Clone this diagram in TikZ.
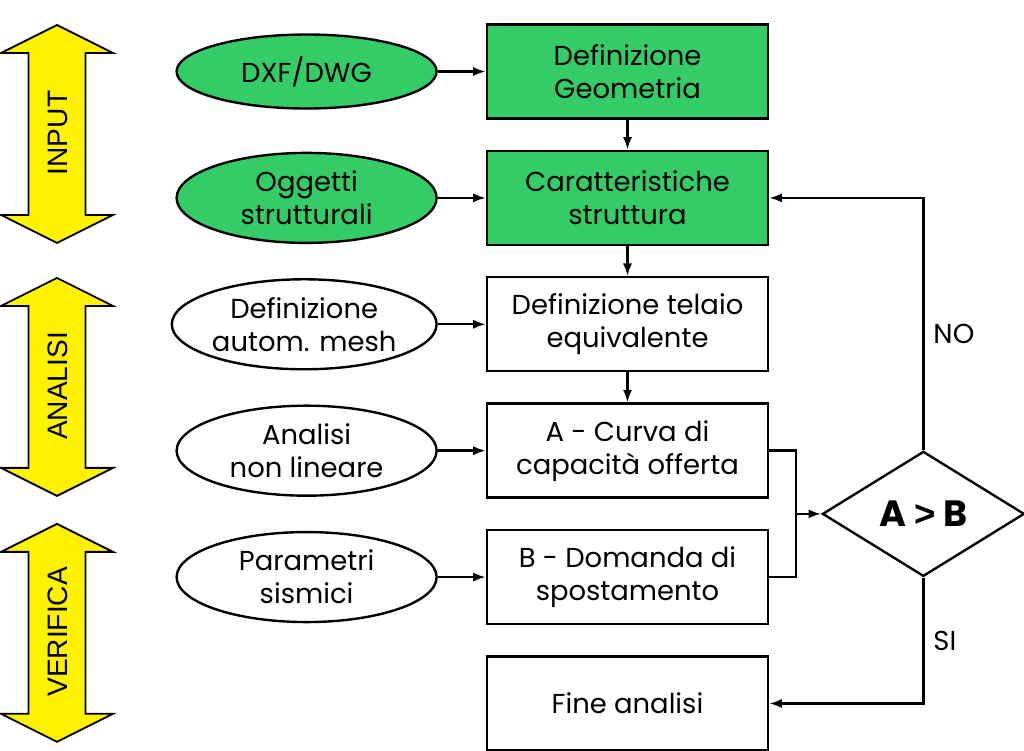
\documentclass[tikz,border=0pt]{standalone}
\usepackage{fontspec}
\setmainfont{Poppins}
\newfontfamily\bandfont{Liberation Sans}
\usetikzlibrary{arrows.meta, positioning, shapes.geometric, calc}

\definecolor{boxgreen}{RGB}{51,204,102}
\definecolor{bandyellow}{RGB}{255,242,0}

\tikzset{
  stepbox/.style={draw, minimum width=7.025cm, minimum height=2.35cm, align=center, inner sep=2pt},
  source/.style={draw, ellipse, minimum width=6.5cm, minimum height=2.25cm, align=center, inner sep=1pt},
  decision/.style={draw, diamond, minimum width=5.05cm, minimum height=3.125cm, aspect=1.6, inner sep=1pt}
}

\begin{document}
\begin{tikzpicture}[>={Latex[length=9pt,width=6.5pt]}, line width=1.7pt,
                    node distance=0.75cm and 1.2cm,
                    font=\fontsize{19.5}{23.5}\selectfont]

\useasboundingbox (0,0) rectangle (25.6,-18.75);

% Side bands
\begin{scope}[x=0.025cm, y=-0.025cm]
\foreach \t/\lab in {25/INPUT, 278/ANALISI, 524/VERIFICA} {
  \draw[fill=bandyellow, line width=1.3pt] (57,\t) -- (113,\t+28) -- (85.5,\t+28) -- (85.5,\t+190)
    -- (113,\t+190) -- (57,\t+218) -- (1,\t+190) -- (28.5,\t+190) -- (28.5,\t+28) -- (1,\t+28) -- cycle;
  \node[rotate=90, font=\bandfont\fontsize{20}{24}\selectfont] (band-\lab) at (58,\t+108) {\lab};
}
\end{scope}

% Steps
\node[stepbox, fill=boxgreen] (geo) at (15.6875,-1.7875) {Definizione\\Geometria};
\node[stepbox, fill=boxgreen, below=of geo] (car) {Caratteristiche\\struttura};
\node[stepbox, below=of car] (telaio) {Definizione telaio\\equivalente};
\node[stepbox, below=of telaio] (curva) {A - Curva di\\capacità offerta};
\node[stepbox, below=of curva] (domanda) {B - Domanda di\\spostamento};
\node[stepbox, below=of domanda] (fine) {Fine analisi};

% Inputs
\node[source, fill=boxgreen, minimum height=1.85cm, left=of geo] (dxf) {DXF/DWG};
\node[source, fill=boxgreen, left=of car] (oggetti) {Oggetti\\strutturali};
\node[source, left=of telaio] (mesh) {Definizione\\autom. mesh};
\node[source, left=of curva] (nonlin) {Analisi\\non lineare};
\node[source, left=of domanda] (sismici) {Parametri\\sismici};

% Check
\coordinate (join) at ($(curva.east)!0.5!(domanda.east) + (0.675,0)$);
\node[decision, right=0.625cm of join, font=\bfseries\fontsize{26}{30}\selectfont] (ab) {A {\bandfont >} B};

% Connections
\draw[->] (dxf) -- (geo);
\draw[->] (oggetti) -- (car);
\draw[->] (mesh) -- (telaio);
\draw[->] (nonlin) -- (curva);
\draw[->] (sismici) -- (domanda);

\draw[->] (geo) -- (car);
\draw[->] (car) -- (telaio);
\draw[->] (telaio) -- (curva);

\draw (curva.east) -| (join);
\draw (domanda.east) -| (join);
\draw[->] (join) -- (ab);

\draw[->] (ab.north) |- node[pos=0.23, right=3pt] (no) {NO} (car.east);
\draw[->] (ab.south) |- node[pos=0.25, right=3pt] (si) {SI} (fine.east);

\end{tikzpicture}
\end{document}
